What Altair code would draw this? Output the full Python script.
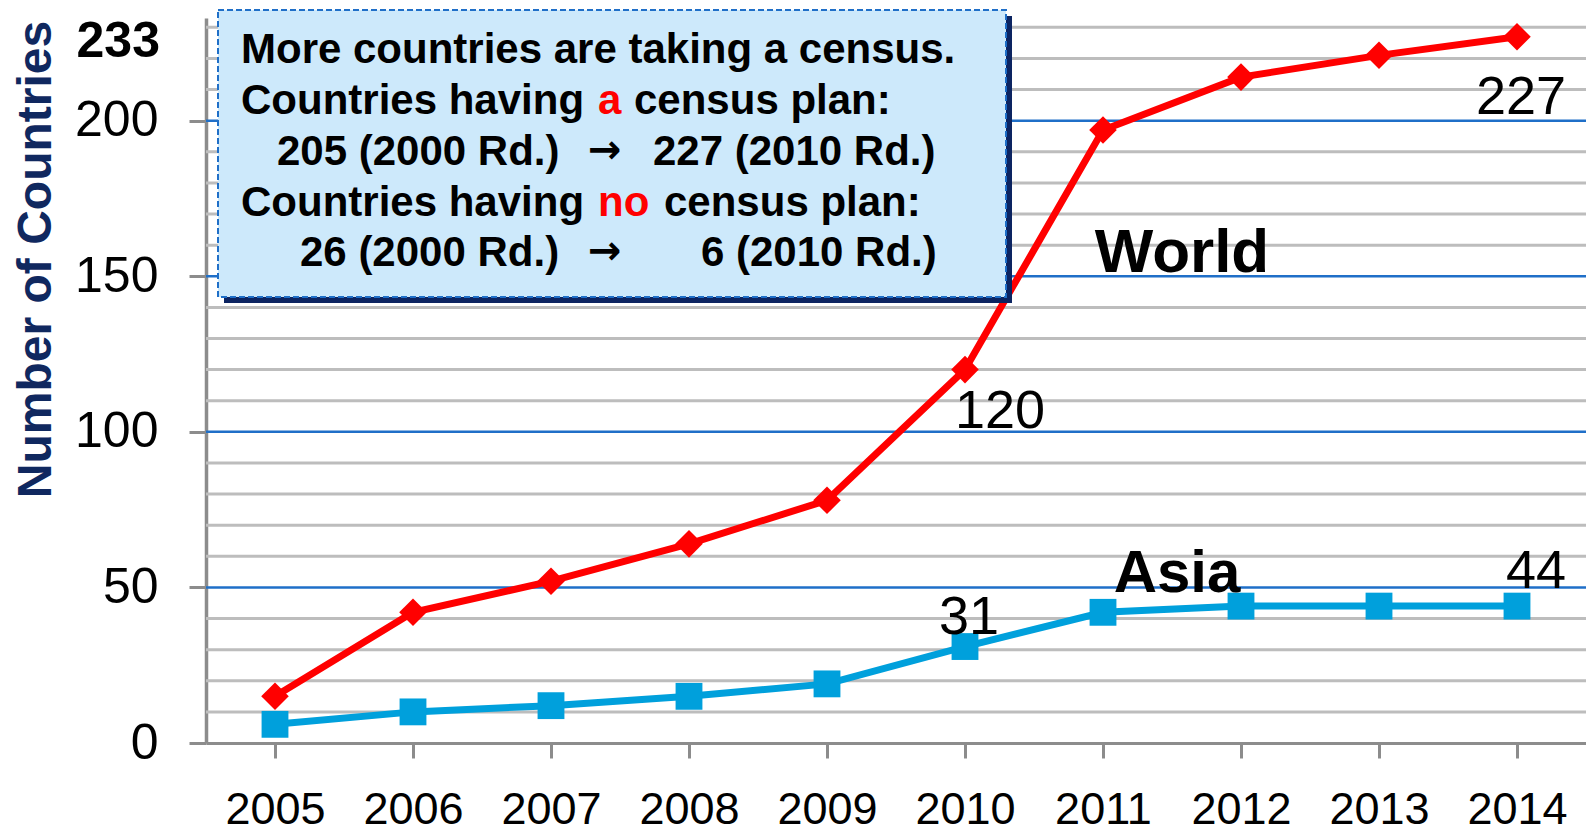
import altair as alt
import pandas as pd

# ---------------- data ----------------
years = ["2005", "2006", "2007", "2008", "2009", "2010", "2011", "2012", "2013", "2014"]
world = [15, 42, 52, 64, 78, 120, 197, 214, 221, 227]
asia = [6, 10, 12, 15, 19, 31, 42, 44, 44, 44]
series_names = ["World", "Asia"]
y_tick_values = [0, 50, 100, 150, 200]
y_top = 233
grid_minor = [10, 20, 30, 40, 60, 70, 80, 90, 110, 120, 130, 140, 160, 170, 180, 190, 210, 220, 230]
grid_major = [50, 100, 150, 200]
y_title = "Number of Countries"

box_line1 = "More countries are taking a census."
box_line2 = ["Countries having ", "a", "census plan:"]
box_line3 = ["205 (2000 Rd.)", "\u2192", "227 (2010 Rd.)"]
box_line4 = ["Countries having ", "no", "census plan:"]
box_line5 = ["26 (2000 Rd.)", "\u2192", "6 (2010 Rd.)"]

# ---------------- styling ----------------
W, H = 1380, 725
FONT = "Liberation Sans"
RED = "#ff0000"
BLUE = "#00a0dc"
GRID_GRAY = "#bdbdbd"
GRID_BLUE = "#1f6fc8"
AXIS_GRAY = "#8c8c8c"
NAVY = "#10285f"

df = pd.DataFrame({
    "year": years * 2,
    "value": world + asia,
    "series": ["World"] * len(years) + ["Asia"] * len(years),
})

xscale = alt.Scale(domain=years, paddingInner=0, paddingOuter=0)
yscale = alt.Scale(domain=[0, y_top], nice=False, zero=True)

x_axis = alt.Axis(
    title=None, labelAngle=0, labelFontSize=45, labelColor="black", labelFont=FONT,
    labelPadding=29, tickSize=15, tickColor=AXIS_GRAY, tickWidth=3,
    domainColor=AXIS_GRAY, domainWidth=3, bandPosition=0, grid=False,
)
y_axis = alt.Axis(
    values=y_tick_values, title=y_title, titleFontSize=48, titleFontWeight="bold",
    titleColor=NAVY, titleFont=FONT, titleX=-170, titleY=241, titleAngle=-90,
    titleAlign="center", titleBaseline="middle",
    labelFontSize=50, labelColor="black", labelFont=FONT, labelPadding=31,
    tickSize=17, tickColor=AXIS_GRAY, tickWidth=3,
    domainColor=AXIS_GRAY, domainWidth=3.5, grid=False,
)

color_scale = alt.Scale(domain=series_names, range=[RED, BLUE])

# gridlines (first layer carries the y axis)
minor = alt.Chart(pd.DataFrame({"g": grid_minor})).mark_rule(color=GRID_GRAY, strokeWidth=3).encode(
    y=alt.Y("g:Q", scale=yscale, axis=y_axis), x=alt.value(0), x2=alt.value(W))
major = alt.Chart(pd.DataFrame({"g": grid_major})).mark_rule(color=GRID_BLUE, strokeWidth=2.5).encode(
    y=alt.Y("g:Q", scale=yscale), x=alt.value(0), x2=alt.value(W))

lines = alt.Chart(df).mark_line(strokeWidth=7).encode(
    x=alt.X("year:N", scale=xscale, axis=x_axis),
    y=alt.Y("value:Q", scale=yscale),
    color=alt.Color("series:N", scale=color_scale, legend=None),
    detail="series:N",
)
points = alt.Chart(df).mark_point(filled=True, opacity=1).encode(
    x=alt.X("year:N", scale=xscale),
    y=alt.Y("value:Q", scale=yscale),
    color=alt.Color("series:N", scale=color_scale, legend=None),
    shape=alt.Shape("series:N", scale=alt.Scale(domain=series_names, range=["diamond", "square"]), legend=None),
    size=alt.Size("series:N", scale=alt.Scale(domain=series_names, range=[760, 720]), legend=None),
)

one = pd.DataFrame({"a": [0]})

# annotation box
shadow = alt.Chart(one).mark_rect(fill="#0c2461").encode(
    x=alt.value(18), x2=alt.value(806), y=alt.value(-2), y2=alt.value(285))
box = alt.Chart(one).mark_rect(fill="#cde9fb", stroke=GRID_BLUE, strokeDash=[6, 3], strokeWidth=2).encode(
    x=alt.value(12), x2=alt.value(800), y=alt.value(-8), y2=alt.value(279))

def seg(text, x, y, color="black", font=FONT, size=42):
    return alt.Chart(pd.DataFrame({"t": [text]})).mark_text(
        font=font, fontSize=size, fontWeight="bold", align="left", baseline="alphabetic", color=color
    ).encode(text="t:N", x=alt.value(x), y=alt.value(y))

ARROW_FONT = "DejaVu Sans"
box_texts = [
    seg(box_line1, 35, 45),
    seg(box_line2[0], 35, 96), seg(box_line2[1], 392, 96, RED), seg(box_line2[2], 428, 96),
    seg(box_line3[0], 71, 147), seg(box_line3[1], 382, 145, font=ARROW_FONT, size=40), seg(box_line3[2], 447, 147),
    seg(box_line4[0], 35, 198), seg(box_line4[1], 392, 198, RED), seg(box_line4[2], 458, 198),
    seg(box_line5[0], 94, 248), seg(box_line5[1], 382, 246, font=ARROW_FONT, size=40), seg(box_line5[2], 495, 248),
]

# value labels
def val_label(idx, vals, align, dx, dy):
    d = pd.DataFrame({"year": [years[idx]], "value": [vals[idx]]})
    return alt.Chart(d).mark_text(
        font=FONT, fontSize=54, align=align, baseline="alphabetic", dx=dx, dy=dy, color="black"
    ).encode(x=alt.X("year:N", scale=xscale), y=alt.Y("value:Q", scale=yscale), text="value:Q")

labels = [
    val_label(9, world, "right", 49, 77),
    val_label(5, world, "left", -10, 58),
    val_label(5, asia, "left", -26, -13),
    val_label(9, asia, "right", 49, -18),
]

def series_label(text, x, y, size):
    return alt.Chart(pd.DataFrame({"t": [text]})).mark_text(
        font=FONT, fontSize=size, fontWeight="bold", align="center", baseline="alphabetic", color="black"
    ).encode(text="t:N", x=alt.value(x), y=alt.value(y))

name_labels = [series_label("World", 976, 254, 62), series_label("Asia", 971, 574, 60)]

top_label = alt.Chart(pd.DataFrame({"v": [y_top]})).mark_text(
    font=FONT, fontSize=50, fontWeight="bold", align="right", baseline="middle", dy=24, color="black"
).encode(y=alt.Y("v:Q", scale=yscale), x=alt.value(-46), text="v:Q")

chart = alt.layer(
    minor, major, lines, shadow, box, *box_texts, points, *labels, *name_labels, top_label
).properties(
    width=W, height=H,
    autosize=alt.AutoSizeParams(type="none"),
    padding={"left": 198, "top": 10, "right": 0, "bottom": 90},
    background="white",
).configure_view(stroke=None)

chart.save("out.html", embed_options={"renderer": "svg", "actions": False})
